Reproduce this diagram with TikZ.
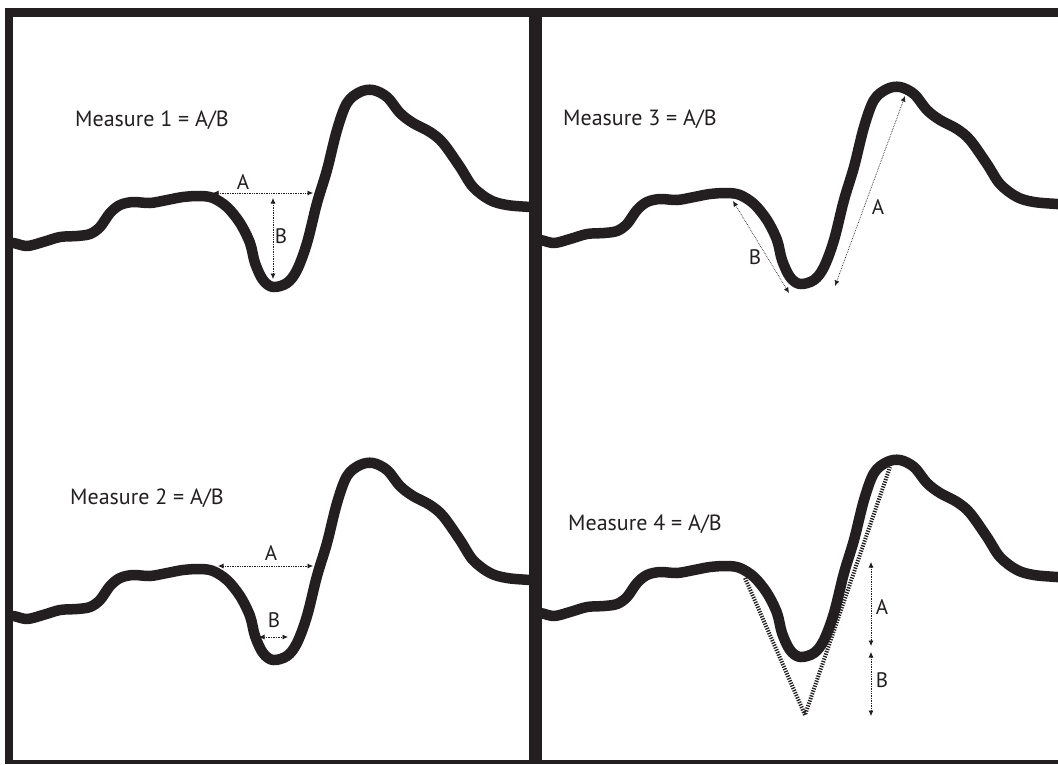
\documentclass[tikz,border=0pt]{standalone}
\usepackage{fontspec}
\setmainfont{PT Sans}
\usetikzlibrary{arrows.meta}
\definecolor{ink}{RGB}{35,31,32}
\tikzset{
  wavestyle/.style={draw=ink, line width=10.5pt, line cap=round, line join=round},
  meas/.style={draw=ink, densely dotted, line width=0.7pt,
     {Latex[length=5.5pt,width=5pt]}-{Latex[length=5.5pt,width=5pt]}},
  lbl/.style={text=ink, font=\fontsize{21}{24}\selectfont, inner sep=0pt},
  title/.style={text=ink, font=\fontsize{22}{26}\selectfont, inner sep=0pt, anchor=base west},
  vline/.style={draw=ink, line width=4pt, dash pattern=on 1.3pt off 1.3pt},
  bar/.style={fill=ink, draw=none},
  wave/.pic={
    \draw[wavestyle] plot[smooth, tension=0.55] coordinates {
      (0,244) (13,243) (27,246) (43,242) (60,237) (77,236) (90,234) (100,227)
      (110,213) (120,205) (133,202) (150,203) (167,200) (183,197) (200,196)
      (213,198) (227,207) (240,223) (250,243) (255,263) (263,280) (273,287)
      (287,283) (297,270) (307,243) (317,203) (327,170) (337,130) (347,103)
      (360,92) (373,90) (387,97) (400,113) (413,123) (430,132) (443,143)
      (460,167) (473,187) (490,200) (507,205) (530,207) (545,208)};
  }
}
\begin{document}
\begin{tikzpicture}[x=1pt,y=-1pt]
\useasboundingbox (0,0) rectangle (1058,764);
\fill[white] (0,0) rectangle (1058,764);
\begin{scope}
\clip (13,0) rectangle (529,764);
\pic at (0,0) {wave};
\pic at (0,373) {wave};
\end{scope}
\begin{scope}
\clip (542,0) rectangle (1058,764);
\pic at (527,-3) {wave};
\pic at (527,370) {wave};
\end{scope}

% titles
\node[title] (t1) at (75,126) {Measure 1 = A/B};
\node[title] (t2) at (70,504) {Measure 2 = A/B};
\node[title] (t3) at (563,125) {Measure 3 = A/B};
\node[title] (t4) at (568,530) {Measure 4 = A/B};

% Measure 1
\coordinate (m1al) at (213,193);
\coordinate (m1ar) at (313,193);
\coordinate (m1bt) at (273,198);
\coordinate (m1bb) at (273,279);
\draw[meas] (m1al) -- (m1ar);
\draw[meas] (m1bt) -- (m1bb);
\node[lbl] (m1A) at (243,182) {A};
\node[lbl] (m1B) at (281,236) {B};

% Measure 2
\coordinate (m2al) at (218,566);
\coordinate (m2ar) at (313,566);
\coordinate (m2bl) at (259,637);
\coordinate (m2br) at (288,637);
\draw[meas] (m2al) -- (m2ar);
\draw[meas] (m2bl) -- (m2br);
\node[lbl] (m2A) at (271,553) {A};
\node[lbl] (m2B) at (274,620) {B};

% Measure 3
\coordinate (m3at) at (905,96);
\coordinate (m3ab) at (835,286);
\coordinate (m3bt) at (733,201);
\coordinate (m3bb) at (789,293);
\draw[meas] (m3at) -- (m3ab);
\draw[meas] (m3bt) -- (m3bb);
\node[lbl] (m3A) at (878,207) {A};
\node[lbl] (m3B) at (755,257) {B};

% Measure 4
\coordinate (v1) at (745,578);
\coordinate (v2) at (805,715);
\coordinate (v3) at (890,467);
\draw[vline] (v1) -- (v2) -- (v3);
\coordinate (m4at) at (871,562);
\coordinate (m4ab) at (871,646);
\coordinate (m4bt) at (871,652);
\coordinate (m4bb) at (871,716);
\draw[meas] (m4at) -- (m4ab);
\draw[meas] (m4bt) -- (m4bb);
\node[lbl] (m4A) at (882,607) {A};
\node[lbl] (m4B) at (882,680) {B};

% frame
\fill[bar] (5,8) rectangle (1058,17);
\fill[bar] (5,8) rectangle (13,764);
\fill[bar] (529,8) rectangle (542,764);
\fill[bar] (5,760) rectangle (1058,764);
\end{tikzpicture}
\end{document}
